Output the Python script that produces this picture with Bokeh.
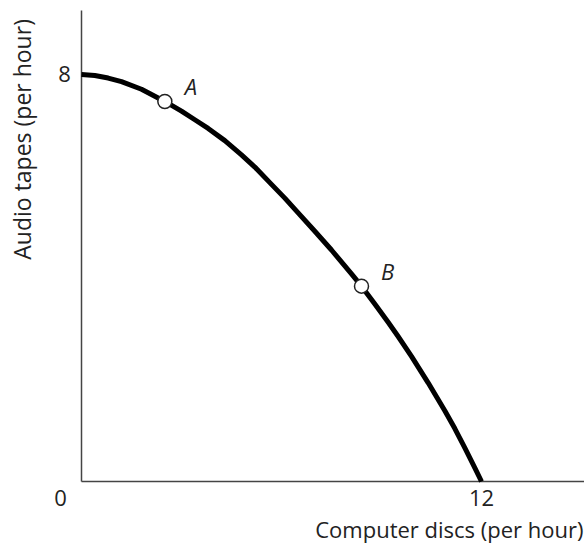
import math
from bokeh.plotting import figure
from bokeh.models import ColumnDataSource, Range1d
from bokeh.core.properties import value
from bokeh.embed import file_html
from bokeh.resources import INLINE

# ---- data ----
ppf_x = [0, 0.4, 0.8, 1.2, 1.8, 2.5, 3.0, 3.4, 3.8, 4.3, 4.8, 5.2, 5.7, 6.1, 6.5, 7.0,
         7.5, 8.1, 8.4, 8.8, 9.2, 9.5, 9.9, 10.4, 10.9, 11.2, 11.5, 11.8, 12]
ppf_y = [8.00, 7.98, 7.93, 7.86, 7.71, 7.47, 7.28, 7.11, 6.94, 6.70, 6.42, 6.18, 5.84, 5.57, 5.28, 4.92,
         4.55, 4.08, 3.84, 3.49, 3.13, 2.85, 2.46, 1.94, 1.39, 1.04, 0.66, 0.27, 0.0]
point_x = [2.5, 8.4]
point_y = [7.47, 3.84]
point_labels = ["A", "B"]
x_ticks = [12]
y_ticks = [8]
origin_label = "0"
x_title = "Computer discs (per hour)"
y_title = "Audio tapes (per hour)"
x_axis_end = 15.09
y_axis_end = 9.26

FONT = "Open Sans"
FS = "22px"
TC = "#222222"
W, H = 584, 552

p = figure(width=W, height=H, output_backend="svg", toolbar_location=None,
           min_border=0, x_axis_location=None, y_axis_location=None,
           x_range=Range1d(-2.43, 15.09), y_range=Range1d(-1.3956, 9.4545))
p.outline_line_color = None
p.grid.visible = False

# axes lines
p.segment(x0=[0, 0], y0=[0, 0], x1=[x_axis_end, 0], y1=[0, y_axis_end],
          line_color="#444444", line_width=1.5)

# tick labels
p.text(x=x_ticks, y=[0] * len(x_ticks), text=[str(t) for t in x_ticks], y_offset=17,
       text_font=value(FONT), text_font_size=FS, text_color=TC,
       text_align="center", text_baseline="middle")
p.text(x=[0] * len(y_ticks), y=y_ticks, text=[str(t) for t in y_ticks], x_offset=-17,
       text_font=value(FONT), text_font_size=FS, text_color=TC,
       text_align="center", text_baseline="middle")
p.text(x=[0], y=[0], text=[origin_label], x_offset=-21, y_offset=17,
       text_font=value(FONT), text_font_size=FS, text_color=TC,
       text_align="center", text_baseline="middle")

# axis titles
p.text(x=[x_axis_end], y=[0], text=[x_title], x_offset=-1, y_offset=48,
       text_font=value(FONT), text_font_size=FS, text_color=TC,
       text_align="right", text_baseline="middle")
p.text(x=[0], y=[y_axis_end], text=[y_title], x_offset=-60, y_offset=129, angle=math.pi / 2,
       text_font=value(FONT), text_font_size="23px", text_color=TC,
       text_align="center", text_baseline="middle")

# curve
p.line(ppf_x, ppf_y, line_color="black", line_width=5, line_cap="butt", line_join="round")

src = ColumnDataSource(dict(x=point_x, y=point_y, t=point_labels))
p.scatter("x", "y", source=src, size=14, fill_color="white", line_color="#222222", line_width=1.5)
p.text("x", "y", text="t", source=src, x_offset=26, y_offset=-15,
       text_font=value(FONT), text_font_style="italic", text_font_size=FS,
       text_align="center", text_baseline="middle", text_color=TC)

open("out.html", "w").write(file_html(p, INLINE))
